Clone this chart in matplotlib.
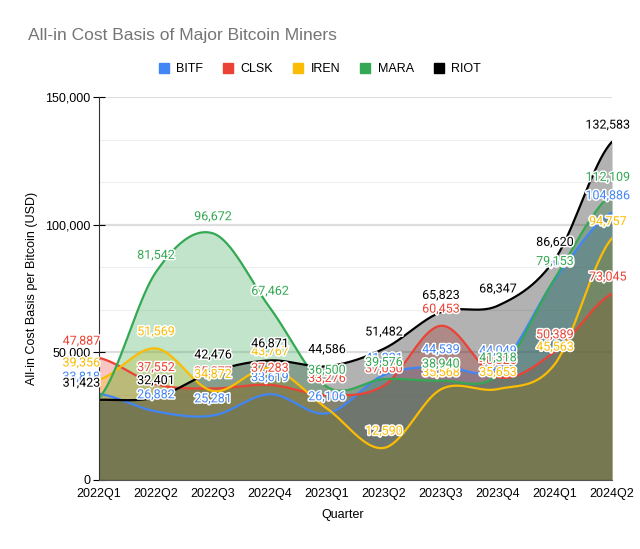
"""All-in cost basis per bitcoin for five listed miners, 2022Q1-2024Q2.

Smoothed, overlapping area chart in the style of a Google Sheets chart.
"""
import numpy as np
import matplotlib
matplotlib.use("Agg")
import matplotlib.pyplot as plt
import matplotlib.patheffects as pe
from matplotlib.patches import Patch
from matplotlib.ticker import FuncFormatter, MultipleLocator

QUARTERS = ["2022Q1", "2022Q2", "2022Q3", "2022Q4", "2023Q1",
            "2023Q2", "2023Q3", "2023Q4", "2024Q1", "2024Q2"]

BITF = [33818, 26882, 25281, 33619, 26106, 41221, 44539, 44049, 78650, 104886]
CLSK = [47887, 37552, 35877, 37283, 33276, 37050, 60453, 40325, 50389, 73045]
IREN = [39356, 51569, 34872, 43767, 28000, 12590, 35568, 35653, 45563, 94757]
MARA = [32100, 81542, 96672, 67462, 36500, 39576, 38940, 41318, 79153, 112109]
RIOT = [31423, 32401, 42476, 46871, 44586, 51482, 65823, 68347, 86620, 132583]

SERIES = [  # (name, values, colour)
    ("BITF", BITF, "#4285F4"),
    ("CLSK", CLSK, "#EA4335"),
    ("IREN", IREN, "#FBBC04"),
    ("MARA", MARA, "#34A853"),
    ("RIOT", RIOT, "#000000"),
]
# labels the original chart does not show (buried under other series)
HIDDEN = {("MARA", 0), ("IREN", 4)}


def smooth(y, n=40):
    """Catmull-Rom curve through the points, for drawing only."""
    y = np.asarray(y, float)
    p = np.concatenate([[y[0]], y, [y[-1]]])
    t = np.linspace(0, 1, n, endpoint=False)
    h00, h10 = 2*t**3 - 3*t**2 + 1, t**3 - 2*t**2 + t
    h01, h11 = -2*t**3 + 3*t**2, t**3 - t**2
    xs, ys = [], []
    for i in range(len(y) - 1):
        p0, p1, p2, p3 = p[i:i+4]
        m1, m2 = (p2 - p0) / 2, (p3 - p1) / 2
        xs.append(i + t)
        ys.append(h00*p1 + h10*m1 + h01*p2 + h11*m2)
    return np.append(np.concatenate(xs), len(y) - 1), np.append(np.concatenate(ys), y[-1])


plt.rcParams["font.family"] = ["Liberation Sans", "DejaVu Sans"]
fig = plt.figure(figsize=(6.4, 5.49), dpi=100)
ax = fig.add_axes([0.1547, 0.1257, 0.8016, 0.697])

for name, vals, col in SERIES:
    xs, ys = smooth(vals)
    ax.fill_between(xs, ys, 0, color=col, alpha=0.3, lw=0)
    ax.plot(xs, ys, color=col, lw=1.6, solid_capstyle="round")

halo = [pe.withStroke(linewidth=2.2, foreground="white")]
for name, vals, col in SERIES:
    for i, v in enumerate(vals):
        if (name, i) in HIDDEN:
            continue
        ha, dx = ("right", 1) if i == 0 else ("center", -3 if i == len(vals) - 1 else 0)
        ax.annotate(f"{v:,}", (i, v), xytext=(dx, 12), textcoords="offset points",
                    ha=ha, va="center", fontsize=9, color=col, family="Roboto",
                    path_effects=halo, annotation_clip=False, zorder=5)

ax.set_xlim(0, len(QUARTERS) - 1)
ax.set_ylim(0, 150000)
ax.set_xticks(range(len(QUARTERS)))
ax.set_xticklabels(QUARTERS, fontsize=9)
ax.tick_params(axis="x", length=0, pad=6)
ax.yaxis.set_major_locator(MultipleLocator(50000))
ax.yaxis.set_minor_locator(MultipleLocator(50000 / 3))
ax.yaxis.set_major_formatter(FuncFormatter(lambda v, _: f"{v:,.0f}"))
ax.tick_params(axis="y", which="major", length=8, direction="inout", labelsize=9, pad=2)
ax.tick_params(axis="y", which="minor", length=0)
ax.grid(axis="y", which="major", color="#dedede", lw=1.6)
ax.grid(axis="y", which="minor", color="#efefef", lw=0.8)
ax.set_axisbelow(True)
for s in ("top", "right"):
    ax.spines[s].set_visible(False)
ax.spines["left"].set_color("#333333")
ax.spines["bottom"].set_color("#555555")

fig.text(0.044, 0.936, "All-in Cost Basis of Major Bitcoin Miners",
         fontsize=12.5, color="#757575", ha="left", va="center")
fig.text(0.05, ax.get_position().y0 + ax.get_position().height / 2,
         "All-in Cost Basis per Bitcoin (USD)", rotation=90,
         ha="center", va="center", fontsize=9)
fig.text(0.536, 0.062, "Quarter", ha="center", va="center", fontsize=9)

handles = [Patch(facecolor=c, edgecolor=c, label=n) for n, _, c in SERIES]
fig.legend(handles=handles, loc="center", bbox_to_anchor=(0.5, 0.874), ncol=5,
           frameon=False, fontsize=9, handlelength=0.8, handleheight=0.8,
           handletextpad=0.6, columnspacing=1.6)

fig.savefig("out.png", dpi=100)
print("wrote out.png")
